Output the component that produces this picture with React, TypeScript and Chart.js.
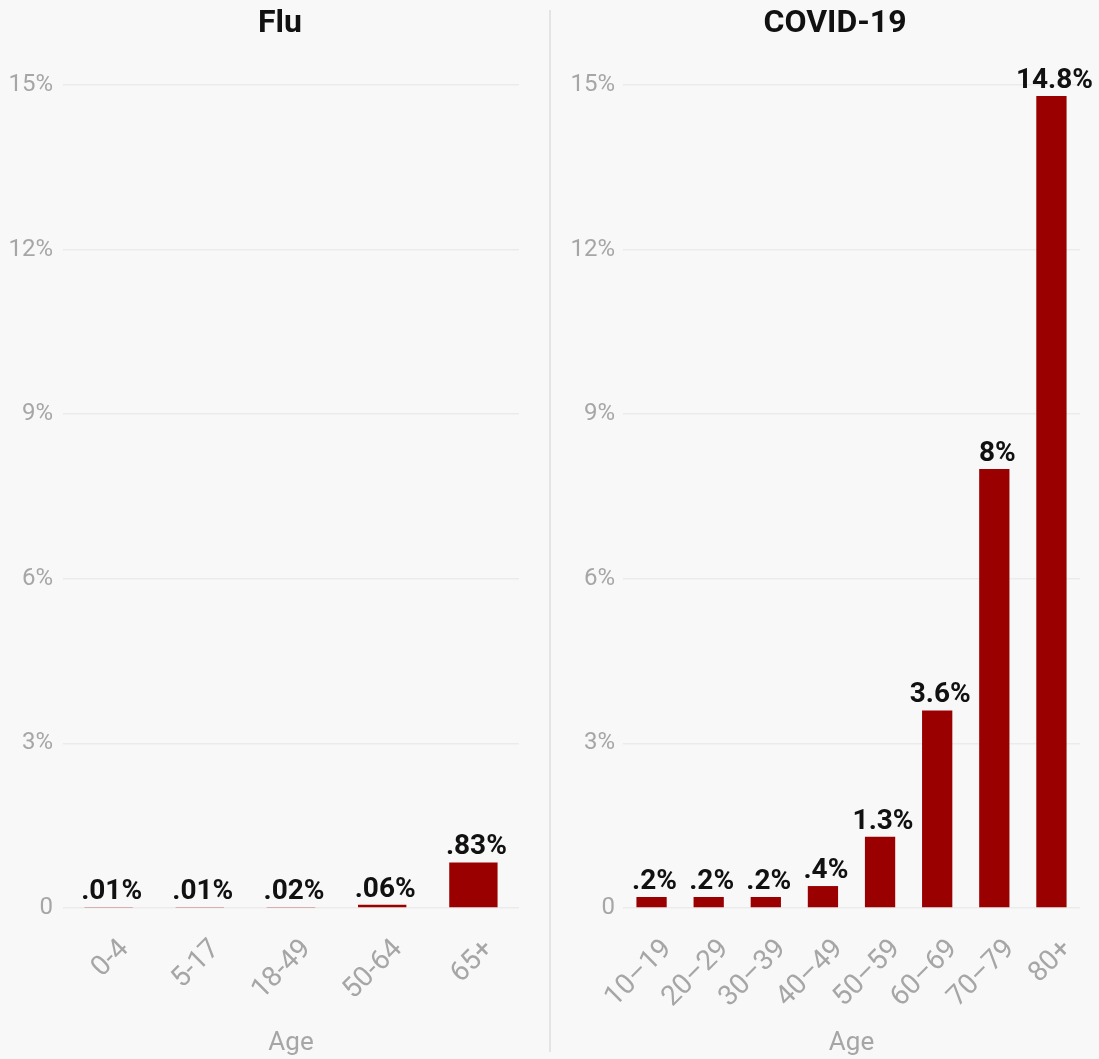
import React, { useEffect, useRef } from 'react';
import { Chart, registerables } from 'chart.js';

Chart.register(...registerables);

// ---- data ----
const fluAges = ['0-4', '5-17', '18-49', '50-64', '65+'];
const fluRates = [0.01, 0.01, 0.02, 0.06, 0.83];
const covidAges = ['10–19', '20–29', '30–39', '40–49', '50–59', '60–69', '70–79', '80+'];
const covidRates = [0.2, 0.2, 0.2, 0.4, 1.3, 3.6, 8, 14.8];
const yTickValues = [0, 3, 6, 9, 12, 15];
const axisTitle = 'Age';

const FONT = 'Roboto, "Noto Sans", sans-serif';
const BAR = '#9a0000';
const GRAY = '#a6a6a6';

const fmtValue = (v: number) => String(v).replace(/^0\./, '.') + '%';

const valueLabels = {
  id: 'valueLabels',
  afterDatasetsDraw(chart: any) {
    const { ctx } = chart;
    const meta = chart.getDatasetMeta(0);
    const data = chart.data.datasets[0].data as number[];
    ctx.save();
    ctx.font = `bold 28px ${FONT}`;
    ctx.fillStyle = '#111111';
    ctx.textAlign = 'center';
    ctx.textBaseline = 'alphabetic';
    meta.data.forEach((bar: any, i: number) => {
      ctx.fillText(fmtValue(data[i]), bar.x + 3, bar.y - 8);
    });
    ctx.restore();
  },
};

const panelTitle = {
  id: 'panelTitle',
  afterDraw(chart: any, _args: any, opts: any) {
    const { ctx } = chart;
    ctx.save();
    ctx.font = `bold 32px ${FONT}`;
    ctx.fillStyle = '#111111';
    ctx.textAlign = 'center';
    ctx.textBaseline = 'middle';
    ctx.fillText(opts.text, opts.x, opts.y);
    ctx.restore();
  },
};

type PanelProps = {
  title: string;
  titleX: number;
  labels: string[];
  values: number[];
  yWidth: number;
  padRight: number;
  tickPad: number;
};

function Panel({ title, titleX, labels, values, yWidth, padRight, tickPad }: PanelProps) {
  const ref = useRef<HTMLCanvasElement | null>(null);
  useEffect(() => {
    if (!ref.current) return;
    const chart = new Chart(ref.current, {
      type: 'bar',
      data: {
        labels,
        datasets: [
          {
            data: values,
            backgroundColor: BAR,
            barPercentage: 0.53,
            categoryPercentage: 1,
          },
        ],
      },
      options: {
        animation: false,
        responsive: true,
        maintainAspectRatio: false,
        layout: { padding: { left: 0, right: padRight, top: 85, bottom: 0 } },
        plugins: {
          legend: { display: false },
          tooltip: { enabled: false },
          title: { display: false },
          panelTitle: { text: title, x: titleX, y: 24 },
        },
        scales: {
          x: {
            grid: { display: false },
            border: { display: false },
            ticks: {
              color: GRAY,
              font: { family: FONT, size: 28 },
              maxRotation: 45,
              minRotation: 45,
              autoSkip: false,
              padding: 17,
              labelOffset: 16,
            },
            title: {
              display: true,
              text: axisTitle,
              color: GRAY,
              font: { family: FONT, size: 26 },
              padding: { top: 0, bottom: 0 },
            },
            afterFit: (s: any) => {
              s.height = 151;
            },
          },
          y: {
            min: 0,
            max: 15,
            afterBuildTicks: (s: any) => {
              s.ticks = yTickValues.map((v) => ({ value: v }));
            },
            grid: { color: '#ebebeb', lineWidth: 1.5, drawTicks: false },
            border: { display: false },
            ticks: {
              color: GRAY,
              font: { family: FONT, size: 24 },
              padding: tickPad,
              callback: (v: any) => (Number(v) === 0 ? '0' : v + '%'),
            },
            afterFit: (s: any) => {
              s.width = yWidth;
            },
          },
        },
      },
      plugins: [valueLabels, panelTitle],
    } as any);
    return () => chart.destroy();
  }, []);
  return <canvas ref={ref} />;
}

export default function App() {
  useEffect(() => {
    document.body.style.margin = '0';
    document.body.style.background = '#f8f8f8';
  }, []);
  return (
    <div
      style={{
        position: 'absolute',
        left: 0,
        top: 0,
        width: 1099,
        height: 1059,
        background: '#f8f8f8',
        overflow: 'hidden',
      }}
    >
      <div style={{ position: 'absolute', left: 0, top: 0, width: 549, height: 1059 }}>
        <Panel
          title="Flu"
          titleX={280}
          labels={fluAges}
          values={fluRates}
          yWidth={63}
          padRight={30}
          tickPad={10}
        />
      </div>
      <div
        style={{
          position: 'absolute',
          left: 549,
          top: 10,
          width: 2,
          height: 1042,
          background: '#e4e4e4',
        }}
      />
      <div style={{ position: 'absolute', left: 551, top: 0, width: 548, height: 1059 }}>
        <Panel
          title="COVID-19"
          titleX={284}
          labels={covidAges}
          values={covidRates}
          yWidth={72}
          padRight={19}
          tickPad={8}
        />
      </div>
    </div>
  );
}
